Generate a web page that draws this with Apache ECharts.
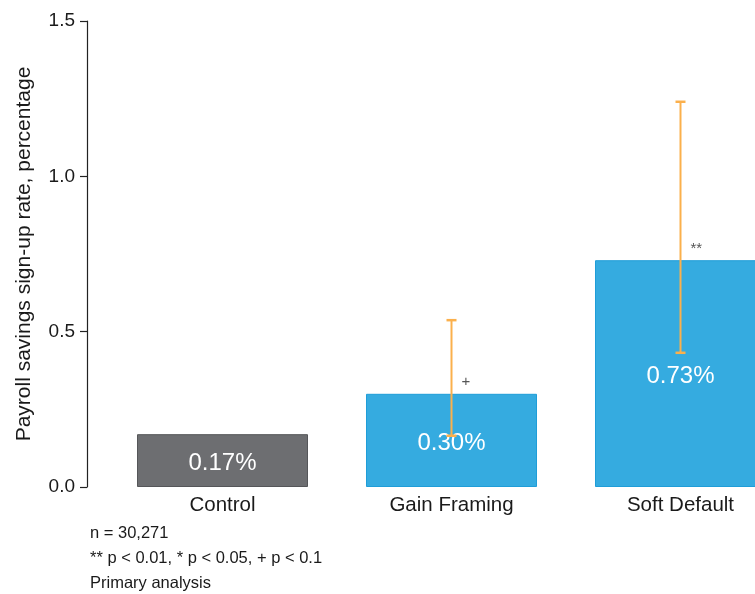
<!DOCTYPE html>
<html>
<head>
<meta charset="utf-8">
<script src="https://cdn.jsdelivr.net/npm/echarts@6/dist/echarts.min.js"></script>
<style>
html,body{margin:0;padding:0;background:#fff;}
#chart{width:755px;height:594px;}
</style>
</head>
<body>
<div id="chart"></div>
<script>
var categories = ['Control', 'Gain Framing', 'Soft Default'];
var values = [0.17, 0.30, 0.73];
var ciLow = [null, 0.165, 0.432];
var ciHigh = [null, 0.537, 1.240];
var sigMarks = ['', '+', '**'];
var yTicks = [0, 0.5, 1.0, 1.5];
var notes = ['n = 30,271', '** p < 0.01, * p < 0.05, + p < 0.1', 'Primary analysis'];

var barColors = ['#6d6e71', '#35abe0', '#35abe0'];
var barBorders = ['#555659', '#1f9dd8', '#1f9dd8'];
var FONT = 'Liberation Sans, Arial, sans-serif';

var chart = echarts.init(document.getElementById('chart'));

var barData = values.map(function (v, i) {
  return {
    value: v,
    itemStyle: { color: barColors[i], borderColor: barBorders[i], borderWidth: 1 }
  };
});

var errData = categories.map(function (c, i) {
  return [i, ciLow[i], ciHigh[i], values[i]];
}).filter(function (d) { return d[1] != null; });

var sigData = categories.map(function (c, i) {
  return [i, values[i], sigMarks[i]];
}).filter(function (d) { return d[2]; });

chart.setOption({
  animation: false,
  grid: { left: 108, top: 21, bottom: 107, width: 687, outerBoundsMode: 'none', containLabel: false },
  xAxis: {
    type: 'category',
    data: categories,
    axisLine: { show: false },
    axisTick: { show: false },
    axisLabel: { color: '#1a1a1a', fontSize: 20.5, fontFamily: FONT, margin: 8 }
  },
  yAxis: {
    type: 'value',
    min: yTicks[0],
    max: yTicks[yTicks.length - 1],
    interval: yTicks[1] - yTicks[0],
    offset: 21,
    name: 'Payroll savings sign-up rate, percentage',
    nameLocation: 'middle',
    nameGap: 52,
    nameTextStyle: { color: '#1a1a1a', fontSize: 21, fontFamily: FONT },
    axisLine: { show: true, lineStyle: { color: '#222', width: 1.2 } },
    axisTick: { show: true, length: 7, lineStyle: { color: '#222', width: 1.2 } },
    axisLabel: {
      color: '#1a1a1a', fontSize: 19, fontFamily: FONT, margin: 12,
      formatter: function (v) { return v.toFixed(1); }
    },
    splitLine: { show: false }
  },
  series: [
    {
      type: 'bar',
      data: barData,
      barWidth: 171,
      label: {
        show: true,
        position: 'inside',
        offset: [0, 3],
        color: '#ffffff',
        fontSize: 24,
        fontFamily: FONT,
        formatter: function (p) { return p.value.toFixed(2) + '%'; }
      }
    },
    {
      type: 'custom',
      data: errData,
      z: 5,
      renderItem: function (params, api) {
        var x = api.value(0);
        var lo = api.coord([x, api.value(1)]);
        var hi = api.coord([x, api.value(2)]);
        var cx = lo[0];
        var capW = 5;
        var style = { stroke: '#fbb04c', lineWidth: 2 };
        return {
          type: 'group',
          children: [
            { type: 'line', shape: { x1: cx, y1: lo[1], x2: cx, y2: hi[1] }, style: style },
            { type: 'line', shape: { x1: cx - capW, y1: hi[1], x2: cx + capW, y2: hi[1] }, style: { stroke: '#fbb04c', lineWidth: 2.5 } },
            { type: 'line', shape: { x1: cx - capW, y1: lo[1], x2: cx + capW, y2: lo[1] }, style: { stroke: '#fbb04c', lineWidth: 2.5 } }
          ]
        };
      }
    },
    {
      type: 'custom',
      data: sigData,
      z: 6,
      renderItem: function (params, api) {
        var p = api.coord([api.value(0), api.value(1)]);
        return {
          type: 'text',
          x: p[0] + 10,
          y: p[1] - 4,
          style: {
            text: api.value(2),
            fill: '#555555',
            fontSize: 15,
            fontFamily: FONT,
            align: 'left',
            verticalAlign: 'bottom'
          }
        };
      }
    }
  ],
  graphic: notes.map(function (t, i) {
    return {
      type: 'text',
      left: 90,
      top: 525 + i * 25,
      style: { text: t, fill: '#1a1a1a', fontSize: 16.5, fontFamily: FONT }
    };
  })
});
</script>
</body>
</html>
